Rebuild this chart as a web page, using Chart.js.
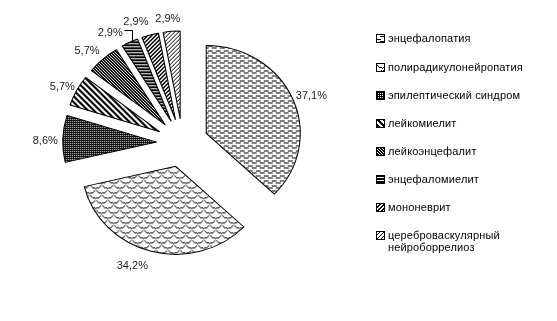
<!DOCTYPE html>
<html><head><meta charset="utf-8">
<script src="https://cdn.jsdelivr.net/npm/chart.js@4"></script>
<style>
html,body{margin:0;padding:0;background:#fff;width:557px;height:321px;overflow:hidden;}
#wrap{position:relative;width:557px;height:321px;}
#c{position:absolute;left:0;top:0;}
#legend{position:absolute;left:0;top:0;font-family:"Liberation Sans",Arial,sans-serif;font-size:11px;color:#000;}
.item{position:absolute;left:376px;white-space:nowrap;}
.item canvas{position:absolute;left:0;}
.item span{position:absolute;left:12px;line-height:12px;letter-spacing:0.15px;}
</style></head>
<body>
<div id="wrap">
<canvas id="c" width="557" height="321"></canvas>
<div id="legend"></div>
</div>
<script>
// ---- data ----
const categories = ["энцефалопатия","полирадикулонейропатия","эпилептический синдром","лейкомиелит","лейкоэнцефалит","энцефаломиелит","мононеврит","цереброваскулярный нейроборрелиоз"];
const values = [37.1, 34.2, 8.6, 5.7, 5.7, 2.9, 2.9, 2.9];
const legendLines = [["энцефалопатия"],["полирадикулонейропатия"],["эпилептический синдром"],["лейкомиелит"],["лейкоэнцефалит"],["энцефаломиелит"],["мононеврит"],["цереброваскулярный","нейроборрелиоз"]];

// ---- style ----
const EXPLODE = 25;
const RADIUS = 91;
const SX = 94/91, SY = 88/91;   // slight elliptical stretch of the pie
const LABEL_GAP = 7;
const labelShift = [[-2,2],[-13,3],[2,3],[3,2],[-3,1],[-11,1],[-9,-1],[-2,0]];

function makeTile(w,h,fn){
  const c=document.createElement('canvas'); c.width=w; c.height=h;
  const x=c.getContext('2d'); x.fillStyle='#fff'; x.fillRect(0,0,w,h);
  x.fillStyle='#000'; fn(x,w,h); return c;
}
function pix(fnTest){ return (x,w,h)=>{ for(let j=0;j<h;j++)for(let i=0;i<w;i++) if(fnTest(i,j)) x.fillRect(i,j,1,1); }; }
function scaleTile(i,j){
  const u=i%12, v=j%10;
  const curve=(a)=>Math.round(Math.sqrt(Math.max(0,36-a*a))*0.75);
  const y1=curve(u-6);
  const a2 = u<6? u : u-12;
  const y2=5+curve(a2);
  return v===y1 || v===(y2%10);
}
const tiles = [
  makeTile(8,5,(x)=>{x.fillRect(0,0,5,1);x.fillRect(4,2,5,1);x.fillRect(0,2,1,1);}),
  makeTile(12,10,pix(scaleTile)),
  makeTile(2,2,(x)=>{x.fillRect(0,0,2,2);x.fillStyle='#fff';x.fillRect(0,0,1,1);}),
  makeTile(6,6,pix((i,j)=>((i-j+12)%6)<3)),
  makeTile(3,3,pix((i,j)=>((i-j+6)%3)<2)),
  makeTile(1,3,pix((i,j)=>j<2)),
  makeTile(4,4,pix((i,j)=>((i+j)%4)<2)),
  makeTile(4,4,pix((i,j)=>((i+j)%4)===0))
];
const ctx = document.getElementById('c').getContext('2d');
const patterns = tiles.map(t=>ctx.createPattern(t,'repeat'));

function fmt(v){ return v.toFixed(1).replace('.',',') + '%'; }

const explodePlugin = {
  id:'explode',
  beforeDatasetsDraw(chart){
    const meta = chart.getDatasetMeta(0);
    const c = chart.ctx;
    const a0 = meta.data[0];
    const cx=a0.x, cy=a0.y;
    const pm = new DOMMatrix().translate(cx,cy).scale(1/SX,1/SY).translate(-cx,-cy);
    patterns.forEach(p=>{ if(p.setTransform) p.setTransform(pm); });
    c.save();
    c.translate(cx,cy); c.scale(SX,SY); c.translate(-cx,-cy);
    meta.data.forEach(arc=>{
      const h=(arc.startAngle+arc.endAngle)/2;
      c.save(); c.translate(Math.cos(h)*EXPLODE, Math.sin(h)*EXPLODE);
      arc.draw(c, chart.chartArea); c.restore();
    });
    c.restore();
    return false;
  },
  afterDraw(chart){
    const meta = chart.getDatasetMeta(0);
    const c = chart.ctx;
    c.save();
    c.font = '11px "Liberation Sans", Arial, sans-serif';
    c.fillStyle = '#222'; c.textAlign='center'; c.textBaseline='middle';
    c.strokeStyle='#000'; c.lineWidth=1;
    meta.data.forEach((arc,i)=>{
      const h=(arc.startAngle+arc.endAngle)/2;
      const dx=Math.cos(h), dy=Math.sin(h);
      const txt=fmt(values[i]);
      const w=c.measureText(txt).width, th=10;
      const R=arc.outerRadius+EXPLODE;
      const px=arc.x+dx*(R*SX+LABEL_GAP), py=arc.y+dy*(R*SY+LABEL_GAP);
      const tx=px+dx*w/2+labelShift[i][0];
      const ty=py+dy*th/2+labelShift[i][1];
      c.fillText(txt, tx, ty);
      if (i===5){
        const ax=arc.x+dx*R*SX, ay=arc.y+dy*R*SY;
        const lx=tx+w/2+1, ex=lx+8;
        const endX=Math.max(ax, ex+6);
        c.beginPath(); c.moveTo(Math.round(lx)+0.5, Math.round(ty-2)+0.5);
        c.lineTo(Math.round(ex)+0.5, Math.round(ty-2)+0.5);
        c.lineTo(Math.round(ex)+0.5, Math.round(ay)+0.5);
        c.lineTo(Math.round(endX)+0.5, Math.round(ay)+0.5);
        c.stroke();
      }
    });
    c.restore();
  }
};

new Chart(ctx, {
  type:'pie',
  data:{ labels:categories, datasets:[{ data:values, backgroundColor:patterns, borderColor:'#000', borderWidth:1, hoverOffset:0 }]},
  options:{
    responsive:false, animation:false, events:[], radius:RADIUS,
    layout:{padding:{left:0,right:192,top:0,bottom:35}},
    plugins:{legend:{display:false}, tooltip:{enabled:false}}
  },
  plugins:[explodePlugin]
});

// ---- legend ----
const rowY = [38,67,95,123,151,179,207,235];
const leg = document.getElementById('legend');
legendLines.forEach((lines,i)=>{
  const d=document.createElement('div'); d.className='item'; d.style.top=(rowY[i]-6)+'px';
  const sw=document.createElement('canvas'); sw.width=9; sw.height=9; sw.style.top='2px';
  const s=sw.getContext('2d'); s.fillStyle=s.createPattern(tiles[i],'repeat'); s.fillRect(0,0,9,9);
  s.strokeStyle='#000'; s.strokeRect(0.5,0.5,8,8);
  const t=document.createElement('span'); t.innerHTML=lines.join('<br>');
  d.appendChild(sw); d.appendChild(t); leg.appendChild(d);
});
</script>
</body></html>
